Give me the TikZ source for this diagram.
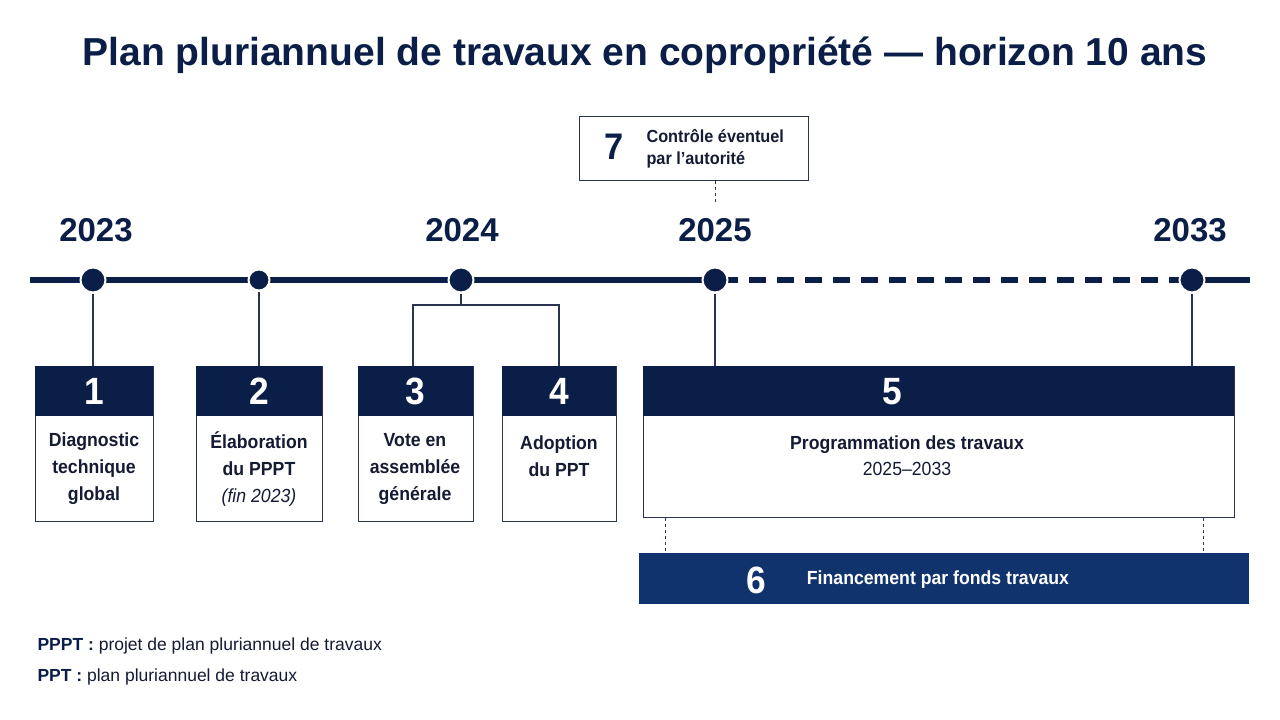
\documentclass[tikz,border=0pt]{standalone}
\usepackage{fontspec}
\setmainfont{Liberation Sans}[FakeStretch=0.93]
\newfontfamily\widefont{Liberation Sans}
\definecolor{navy}{HTML}{0B1E47}
\definecolor{blue6}{HTML}{10336E}
\definecolor{txt}{HTML}{141B33}
\definecolor{frame}{HTML}{2A3350}
\begin{document}
\begin{tikzpicture}[x=1pt,y=-1pt,
  box/.style={draw=frame, line width=1.4pt, fill=white, anchor=north west, inner sep=0pt},
  head/.style={fill=navy, anchor=north west, inner sep=0pt, text=white, font=\fontsize{38}{38}\selectfont\bfseries},
  body/.style={text=txt, font=\fontsize{19}{27}\selectfont\bfseries, align=center},
  dot/.style={circle, fill=navy, draw=white, line width=2pt, inner sep=0pt, minimum size=25pt},
  conn/.style={draw=frame, line width=1.3pt},
  year/.style={font=\widefont\fontsize{33}{33}\selectfont\bfseries, text=navy},
  tline/.style={draw=navy, line width=5.5pt}]
\useasboundingbox (0,0) rectangle (1280,720);
\fill[white] (0,0) rectangle (1280,720);

% title
\node[font=\widefont\fontsize{39}{39}\selectfont\bfseries, text=navy] (title) at (645,55) {Plan pluriannuel de travaux en copropriété — horizon 10 ans};

% timeline
\coordinate (tl0) at (30,280);
\coordinate (tl1) at (1250,280);
\coordinate (p4) at (715,280);
\coordinate (p5) at (1192,280);
\draw[tline] (tl0) -- (p4);
\draw[tline, dash pattern=on 17pt off 11pt, dash phase=-6pt] (p4) -- (p5);
\draw[tline] (p5) -- (tl1);

\node[dot] (d1) at (93,280) {};
\node[dot, minimum size=21pt] (d2) at (259,280) {};
\node[dot] (d3) at (461,280) {};
\node[dot] (d4) at (p4) {};
\node[dot] (d5) at (p5) {};

% years
\node[year] (y1) at (96,230) {2023};
\node[year] (y2) at (462,230) {2024};
\node[year] (y3) at (715,230) {2025};
\node[year] (y4) at (1190,230) {2033};

% box 1
\node[box, minimum width=118pt, minimum height=155pt] (b1) at (35,366) {};
\node[head, minimum width=118pt, minimum height=50pt] (h1) at (35,366) {1};
\node[body] (t1) at (94,469) {Diagnostic\\technique\\global};
% box 2
\node[box, minimum width=126pt, minimum height=155pt] (b2) at (196,366) {};
\node[head, minimum width=126pt, minimum height=50pt] (h2) at (196,366) {2};
\node[body] (t2) at (259,469) {Élaboration\\du PPPT\\{\mdseries\itshape (fin 2023)}};
% box 3
\node[box, minimum width=115pt, minimum height=155pt] (b3) at (358,366) {};
\node[head, minimum width=115pt, minimum height=50pt] (h3) at (358,366) {3};
\node[body] (t3) at (415,469) {Vote en\\assemblée\\générale};
% box 4
\node[box, minimum width=114pt, minimum height=155pt] (b4) at (502,366) {};
\node[head, minimum width=114pt, minimum height=50pt] (h4) at (502,366) {4};
\node[body] (t4) at (559,456) {Adoption\\du PPT};
% box 5
\node[box, minimum width=591pt, minimum height=151pt] (b5) at (643,366) {};
\node[head, minimum width=591pt, minimum height=50pt, text width=591pt, align=left] (h5) at (643,366) {\hspace*{239pt}5};
\node[body, font=\fontsize{19}{26}\selectfont] (t5) at (907,456) {\textbf{Programmation des travaux}\\2025–2033};
% box 6
\node[fill=blue6, anchor=north west, inner sep=0pt, minimum width=610pt, minimum height=51pt] (b6) at (639,553) {};
\node[text=white, font=\fontsize{38}{38}\selectfont\bfseries] (n6) at (756,580) {6};
\node[text=white, font=\fontsize{19}{19}\selectfont\bfseries] (t6) at (938,580) {Financement par fonds travaux};
% box 7
\node[box, minimum width=229pt, minimum height=64pt] (b7) at (579,116) {};
\node[text=navy, font=\fontsize{37}{37}\selectfont\bfseries] (n7) at (614,147) {7};
\node[text=txt, anchor=west, align=left, font=\fontsize{17.5}{22}\selectfont\bfseries] (t7) at (643,149) {Contrôle éventuel\\par l’autorité};

% connectors
\draw[conn] (d1) -- (d1 |- b1.north);
\draw[conn] (d2) -- (d2 |- b2.north);
\coordinate (j3) at (461,305);
\draw[conn] (d3) -- (j3);
\coordinate (c3) at (413,366);
\coordinate (c4) at (559,366);
\draw[conn] (c3) -- (c3 |- j3) -- (c4 |- j3) -- (c4);
\draw[conn] (d4) -- (d4 |- b5.north);
\draw[conn] (d5) -- (d5 |- b5.north);
\coordinate (k7) at (715,205);
\draw[conn, line width=1pt, dashed] (d4 |- b7.south) -- (k7);
\coordinate (e6a) at (665,553);
\coordinate (e6b) at (1203,553);
\draw[conn, line width=1pt, dashed] (e6a |- b5.south) -- (e6a);
\draw[conn, line width=1pt, dashed] (e6b |- b5.south) -- (e6b);

% legend
\node[anchor=west, text=txt, font=\widefont\fontsize{17.5}{17.5}\selectfont] (l1) at (34,646) {{\bfseries\color{navy}PPPT :} projet de plan pluriannuel de travaux};
\node[anchor=west, text=txt, font=\widefont\fontsize{17.5}{17.5}\selectfont] (l2) at (34,677) {{\bfseries\color{navy}PPT :} plan pluriannuel de travaux};
\end{tikzpicture}
\end{document}
